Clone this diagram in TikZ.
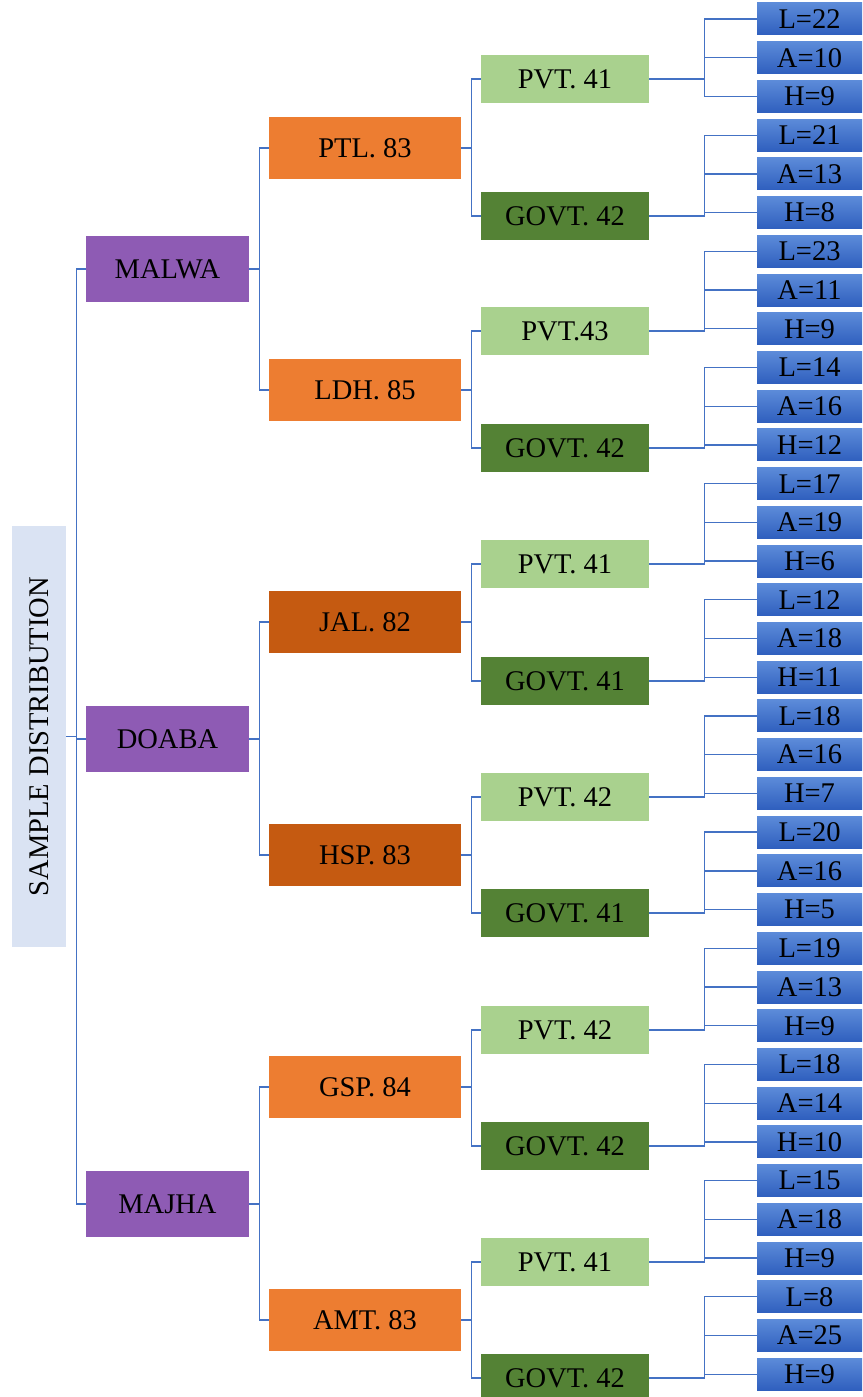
\documentclass[tikz,border=0pt]{standalone}
\usepackage{fontspec}
\setmainfont{Liberation Serif}
\usepackage{tikz}
\definecolor{rootblue}{HTML}{DAE3F3}
\definecolor{regionpurple}{HTML}{8E5BB4}
\definecolor{distorange}{HTML}{ED7D31}
\definecolor{distdark}{HTML}{C55A11}
\definecolor{pvtgreen}{HTML}{A9D18E}
\definecolor{govtgreen}{HTML}{548235}
\definecolor{leaftop}{HTML}{5C8BD9}
\definecolor{leafbottom}{HTML}{2F5FBE}
\definecolor{linkblue}{HTML}{4472C4}

\begin{document}
\begin{tikzpicture}[
    x=1pt, y=-1pt,
    every node/.style={font=\fontsize{28.5}{32}\selectfont, text=black, inner sep=0pt},
    rootbox/.style={rectangle, fill=rootblue, minimum width=421pt, minimum height=54pt, rotate=90},
    region/.style={rectangle, fill=regionpurple, minimum width=163pt, minimum height=66pt},
    district/.style={rectangle, fill=distorange, minimum width=192pt, minimum height=62pt},
    districtdark/.style={district, fill=distdark},
    pvt/.style={rectangle, fill=pvtgreen, minimum width=168pt, minimum height=48pt},
    govt/.style={pvt, fill=govtgreen},
    leafbox/.style={rectangle, top color=leaftop, bottom color=leafbottom, minimum width=105pt, minimum height=32pt},
    link/.style={draw=linkblue, line width=1.3pt}
]
\useasboundingbox (0,0) rectangle (862,1397);

% Root
\node[rootbox] (sample) at (39,736.5) {SAMPLE DISTRIBUTION};

% Regions
\node[region] (malwa) at (167.5,269) {MALWA};
\node[region] (doaba) at (167.5,739) {DOABA};
\node[region] (majha) at (167.5,1204) {MAJHA};

% Districts
\node[district] (ptl) at (365,148) {PTL. 83};
\node[district] (ldh) at (365,390) {LDH. 85};
\node[districtdark] (jal) at (365,622) {JAL. 82};
\node[districtdark] (hsp) at (365,855) {HSP. 83};
\node[district] (gsp) at (365,1087) {GSP. 84};
\node[district] (amt) at (365,1320) {AMT. 83};

% Schools
\node[pvt] (ptl-pvt) at (565,79) {PVT. 41};
\node[govt] (ptl-govt) at (565,216) {GOVT. 42};
\node[pvt] (ldh-pvt) at (565,331) {PVT.43};
\node[govt] (ldh-govt) at (565,448) {GOVT. 42};
\node[pvt] (jal-pvt) at (565,564) {PVT. 41};
\node[govt] (jal-govt) at (565,681) {GOVT. 41};
\node[pvt] (hsp-pvt) at (565,797) {PVT. 42};
\node[govt] (hsp-govt) at (565,913) {GOVT. 41};
\node[pvt] (gsp-pvt) at (565,1030) {PVT. 42};
\node[govt] (gsp-govt) at (565,1146) {GOVT. 42};
\node[pvt] (amt-pvt) at (565,1262) {PVT. 41};
\node[govt] (amt-govt) at (565,1378) {GOVT. 42};

% Leaves
\foreach \lab [count=\k from 0] in {L=22, A=10, H=9, L=21, A=13, H=8,
    L=23, A=11, H=9, L=14, A=16, H=12, L=17, A=19, H=6, L=12, A=18, H=11,
    L=18, A=16, H=7, L=20, A=16, H=5, L=19, A=13, H=9, L=18, A=14, H=10,
    L=15, A=18, H=9, L=8, A=25, H=9}
  \node[leafbox] (leaf\k) at (809.5,{19+38.72*\k}) {\lab};

% Links root -> regions
\foreach \reg in {malwa, doaba, majha}
  \draw[link] (sample.south) -- ++(10,0) |- (\reg.west);

% Links regions -> districts
\draw[link] (malwa.east) -- ++(10,0) |- (ptl.west);
\draw[link] (malwa.east) -- ++(10,0) |- (ldh.west);
\draw[link] (doaba.east) -- ++(10,0) |- (jal.west);
\draw[link] (doaba.east) -- ++(10,0) |- (hsp.west);
\draw[link] (majha.east) -- ++(10,0) |- (gsp.west);
\draw[link] (majha.east) -- ++(10,0) |- (amt.west);

% Links districts -> schools
\foreach \dist in {ptl, ldh, jal, hsp, gsp, amt} {
  \draw[link] (\dist.east) -- ++(10,0) |- (\dist-pvt.west);
  \draw[link] (\dist.east) -- ++(10,0) |- (\dist-govt.west);
}

% Links schools -> leaves
\foreach \school [count=\g from 0] in {ptl-pvt, ptl-govt, ldh-pvt, ldh-govt,
    jal-pvt, jal-govt, hsp-pvt, hsp-govt, gsp-pvt, gsp-govt, amt-pvt, amt-govt}
  \foreach \j in {0,1,2} {
    \pgfmathtruncatemacro{\k}{3*\g+\j}
    \draw[link] (\school.east) -- ++(55,0) |- (leaf\k.west);
  }

\end{tikzpicture}
\end{document}
